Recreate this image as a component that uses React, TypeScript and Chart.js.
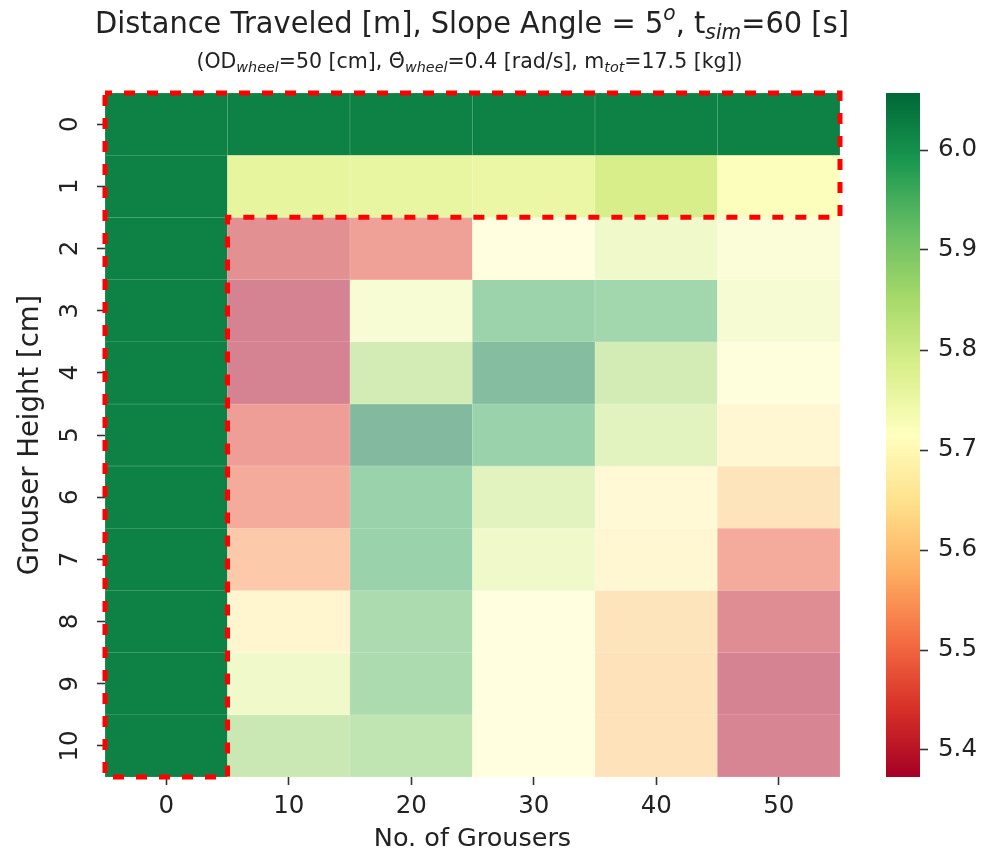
import React, { useEffect, useRef } from "react";
import { Chart, registerables } from "chart.js";
Chart.register(...registerables);

// ---- data ----
const grouserCounts = [0, 10, 20, 30, 40, 50];
const grouserHeights = [0, 1, 2, 3, 4, 5, 6, 7, 8, 9, 10];

const h0 = [6.02, 6.02, 6.02, 6.02, 6.02, 6.02];
const h1 = [6.02, 5.758, 5.755, 5.749, 5.785, 5.72];
const h2 = [6.02, 5.42, 5.46, 5.715, 5.77, 5.73];
const h3 = [6.02, 5.38, 5.74, 5.96, 5.95, 5.745];
const h4 = [6.02, 5.38, 5.85, 6.03, 5.85, 5.72];
const h5 = [6.02, 5.455, 6.04, 5.965, 5.81, 5.68];
const h6 = [6.02, 5.485, 5.965, 5.81, 5.69, 5.615];
const h7 = [6.02, 5.55, 5.965, 5.77, 5.68, 5.485];
const h8 = [6.02, 5.67, 5.93, 5.715, 5.615, 5.41];
const h9 = [6.02, 5.77, 5.93, 5.715, 5.61, 5.38];
const h10 = [6.02, 5.87, 5.89, 5.715, 5.61, 5.39];
const rows = [h0, h1, h2, h3, h4, h5, h6, h7, h8, h9, h10];

const cbMin = 5.373;
const cbMax = 6.057;
const cbTicks = [5.4, 5.5, 5.6, 5.7, 5.8, 5.9, 6.0];

const highlightRows = [0, 1];
const highlightCols = [0];

// ---- styling ----
const FONT = "'DejaVu Sans', sans-serif";
const TEXT = "#222";
const TICK_SIZE = 24.5;
const RdYlGn = [
  "#a50026", "#d73027", "#f46d43", "#fdae61", "#fee08b", "#ffffbf",
  "#d9ef8b", "#a6d96a", "#66bd63", "#1a9850", "#006837",
];

function hexToRgb(h: string): number[] {
  return [parseInt(h.slice(1, 3), 16), parseInt(h.slice(3, 5), 16), parseInt(h.slice(5, 7), 16)];
}
const STOPS = RdYlGn.map(hexToRgb);

function cmap(v: number): number[] {
  let t = (v - cbMin) / (cbMax - cbMin);
  t = Math.max(0, Math.min(1, t));
  const p = t * 10;
  const i = Math.min(9, Math.floor(p));
  const f = p - i;
  const a = STOPS[i], b = STOPS[i + 1];
  return [0, 1, 2].map((k) => a[k] + (b[k] - a[k]) * f);
}
function mixWhite(c: number[], a: number): number[] {
  return c.map((x) => x * a + 255 * (1 - a));
}
function css(c: number[]): string {
  return `rgb(${Math.round(c[0])},${Math.round(c[1])},${Math.round(c[2])})`;
}
function cellRgb(v: number, r: number, c: number): number[] {
  const hl = highlightRows.includes(r) || highlightCols.includes(c);
  return mixWhite(cmap(v), hl ? 1 : 0.5);
}

type Seg = { t: string; style?: "sub" | "sup" };

function drawRich(ctx: CanvasRenderingContext2D, segs: Seg[], cx: number, baseY: number, size: number, sx: number) {
  const normal = `${size}px ${FONT}`;
  const small = `italic ${size * 0.7}px ${FONT}`;
  const widths = segs.map((s) => {
    ctx.font = s.style ? small : normal;
    return ctx.measureText(s.t).width;
  });
  const total = widths.reduce((a, b) => a + b, 0);
  ctx.save();
  ctx.translate(cx, baseY);
  ctx.scale(sx, 1);
  let x = -total / 2;
  ctx.fillStyle = TEXT;
  ctx.textAlign = "left";
  ctx.textBaseline = "alphabetic";
  segs.forEach((s, i) => {
    ctx.font = s.style ? small : normal;
    let dy = 0;
    if (s.style === "sub") dy = size * 0.2;
    if (s.style === "sup") dy = -size * 0.42;
    ctx.fillText(s.t, x, dy);
    x += widths[i];
  });
  ctx.restore();
}

const titleSegs: Seg[] = [
  { t: "Distance Traveled [m], Slope Angle = 5" },
  { t: "o", style: "sup" },
  { t: ", t" },
  { t: "sim", style: "sub" },
  { t: "=60 [s]" },
];
const subtitleSegs: Seg[] = [
  { t: "(OD" },
  { t: "wheel", style: "sub" },
  { t: "=50 [cm], \u0398\u0307" },
  { t: "wheel", style: "sub" },
  { t: "=0.4 [rad/s], m" },
  { t: "tot", style: "sub" },
  { t: "=17.5 [kg])" },
];

const titlePlugin = {
  id: "richTitle",
  afterDraw(chart: any) {
    const { ctx, chartArea } = chart;
    const cx = (chartArea.left + chartArea.right) / 2;
    drawRich(ctx, titleSegs, cx - 0.5, 33, 30, 0.963);
    drawRich(ctx, subtitleSegs, cx - 3, 68, 20.5, 1);
  },
};

const outlinePlugin = {
  id: "outline",
  afterDatasetsDraw(chart: any) {
    const { ctx } = chart;
    const xs = chart.scales.x;
    const ys = chart.scales.y;
    const step = xs.getPixelForValue(1) - xs.getPixelForValue(0);
    const colEdge = (i: number) => xs.getPixelForValue(i) - step / 2;
    const rowEdge = (r: number) => ys.getPixelForValue(grouserHeights[0] + r - 0.5);
    const nC = grouserCounts.length;
    const nR = grouserHeights.length;
    const xL = colEdge(0);
    const xR = colEdge(nC);
    const xC = colEdge(highlightCols.length);
    const yT = rowEdge(0);
    const yB = rowEdge(nR);
    const yM = rowEdge(highlightRows.length);
    ctx.save();
    ctx.strokeStyle = "#ff0000";
    ctx.lineWidth = 5;
    ctx.setLineDash([11, 12]);
    ctx.lineDashOffset = 4;
    ctx.lineJoin = "miter";
    ctx.beginPath();
    ctx.moveTo(xL, yT);
    ctx.lineTo(xR, yT);
    ctx.lineTo(xR, yM);
    ctx.lineTo(xC, yM);
    ctx.lineTo(xC, yB);
    ctx.lineTo(xL, yB);
    ctx.closePath();
    ctx.stroke();
    ctx.restore();
  },
};

const gradientPlugin = {
  id: "cbGradient",
  beforeDatasetsDraw(chart: any) {
    const { ctx, chartArea } = chart;
    const ys = chart.scales.y;
    const y0 = ys.getPixelForValue(cbMin);
    const y1 = ys.getPixelForValue(cbMax);
    const g = ctx.createLinearGradient(0, y0, 0, y1);
    RdYlGn.forEach((c, i) => g.addColorStop(i / (RdYlGn.length - 1), c));
    ctx.save();
    ctx.fillStyle = g;
    ctx.fillRect(chartArea.left, y1, chartArea.right - chartArea.left, y0 - y1);
    ctx.restore();
  },
};

export default function App() {
  const mainRef = useRef<HTMLCanvasElement>(null);
  const cbRef = useRef<HTMLCanvasElement>(null);

  useEffect(() => {
    const tickFont = { family: FONT, size: TICK_SIZE };

    const datasets = grouserHeights.map((h, r) => ({
      label: String(h),
      data: rows[r].map(() => [h - 0.5, h + 0.5]),
      backgroundColor: rows[r].map((v, c) => css(cellRgb(v, r, c))),
      borderColor: rows[r].map((v, c) => css(mixWhite(cellRgb(v, r, c), 0.72))),
      borderWidth: 0.6,
      borderSkipped: false,
      grouped: false,
      barPercentage: 1,
      categoryPercentage: 1,
    }));

    const main = new Chart(mainRef.current!, {
      type: "bar",
      data: { labels: grouserCounts.map(String), datasets: datasets as any },
      options: {
        animation: false,
        responsive: false,
        layout: { padding: { left: 0, top: 93, right: 146, bottom: 0 } },
        plugins: { legend: { display: false }, tooltip: { enabled: false }, title: { display: false } },
        scales: {
          x: {
            type: "category",
            offset: true,
            grid: { display: true, drawOnChartArea: false, drawTicks: true, tickLength: 8, tickWidth: 1.6, tickColor: "#333", offset: false },
            border: { display: false },
            ticks: { font: tickFont, color: TEXT, padding: 7, minRotation: 0, maxRotation: 0, autoSkip: false },
            title: { display: true, text: "No. of Grousers", font: { family: FONT, size: 25.5 }, color: TEXT, padding: { top: 0, bottom: 2 } },
            afterFit: (s: any) => {
              s.height = 80;
              s.paddingLeft = 0;
              s.paddingRight = 0;
            },
          },
          y: {
            type: "linear",
            min: grouserHeights[0] - 0.5,
            max: grouserHeights[grouserHeights.length - 1] + 0.5,
            reverse: true,
            afterBuildTicks: (s: any) => {
              s.ticks = grouserHeights.map((v) => ({ value: v }));
            },
            grid: { display: true, drawOnChartArea: false, drawTicks: true, tickLength: 8, tickWidth: 1.6, tickColor: "#333" },
            border: { display: false },
            ticks: {
              font: tickFont,
              color: TEXT,
              padding: 10.4,
              minRotation: 90,
              maxRotation: 90,
              crossAlign: "center",
              autoSkip: false,
              callback: (v: any) => String(v),
            },
            title: { display: true, text: "Grouser Height [cm]", font: { family: FONT, size: 27.5 }, color: TEXT, padding: { top: 14, bottom: 0 } },
            afterFit: (s: any) => {
              s.width = 105;
              s.paddingTop = 0;
              s.paddingBottom = 0;
            },
          },
        },
      } as any,
      plugins: [outlinePlugin, titlePlugin],
    });

    const cb = new Chart(cbRef.current!, {
      type: "scatter",
      data: { datasets: [] },
      options: {
        animation: false,
        responsive: false,
        layout: { padding: { left: 886, top: 93, right: 0, bottom: 80 } },
        plugins: { legend: { display: false }, tooltip: { enabled: false } },
        scales: {
          x: { type: "linear", display: false, min: 0, max: 1 },
          y: {
            type: "linear",
            position: "right",
            min: cbMin,
            max: cbMax,
            afterBuildTicks: (s: any) => {
              s.ticks = cbTicks.map((v) => ({ value: v }));
            },
            grid: { display: true, drawOnChartArea: false, drawTicks: true, tickLength: 8, tickWidth: 1.6, tickColor: "#333" },
            border: { display: false },
            ticks: { font: tickFont, color: TEXT, padding: 10, autoSkip: false, callback: (v: any) => Number(v).toFixed(1) },
            afterFit: (s: any) => {
              s.width = 66;
              s.paddingTop = 0;
              s.paddingBottom = 0;
            },
          },
        },
      } as any,
      plugins: [gradientPlugin],
    });

    return () => {
      main.destroy();
      cb.destroy();
    };
  }, []);

  return (
    <div style={{ position: "absolute", left: 0, top: 0, width: 986, height: 857, background: "#fff" }}>
      <canvas ref={mainRef} width={986} height={857} style={{ position: "absolute", left: 0, top: 0 }} />
      <canvas ref={cbRef} width={986} height={857} style={{ position: "absolute", left: 0, top: 0 }} />
    </div>
  );
}
